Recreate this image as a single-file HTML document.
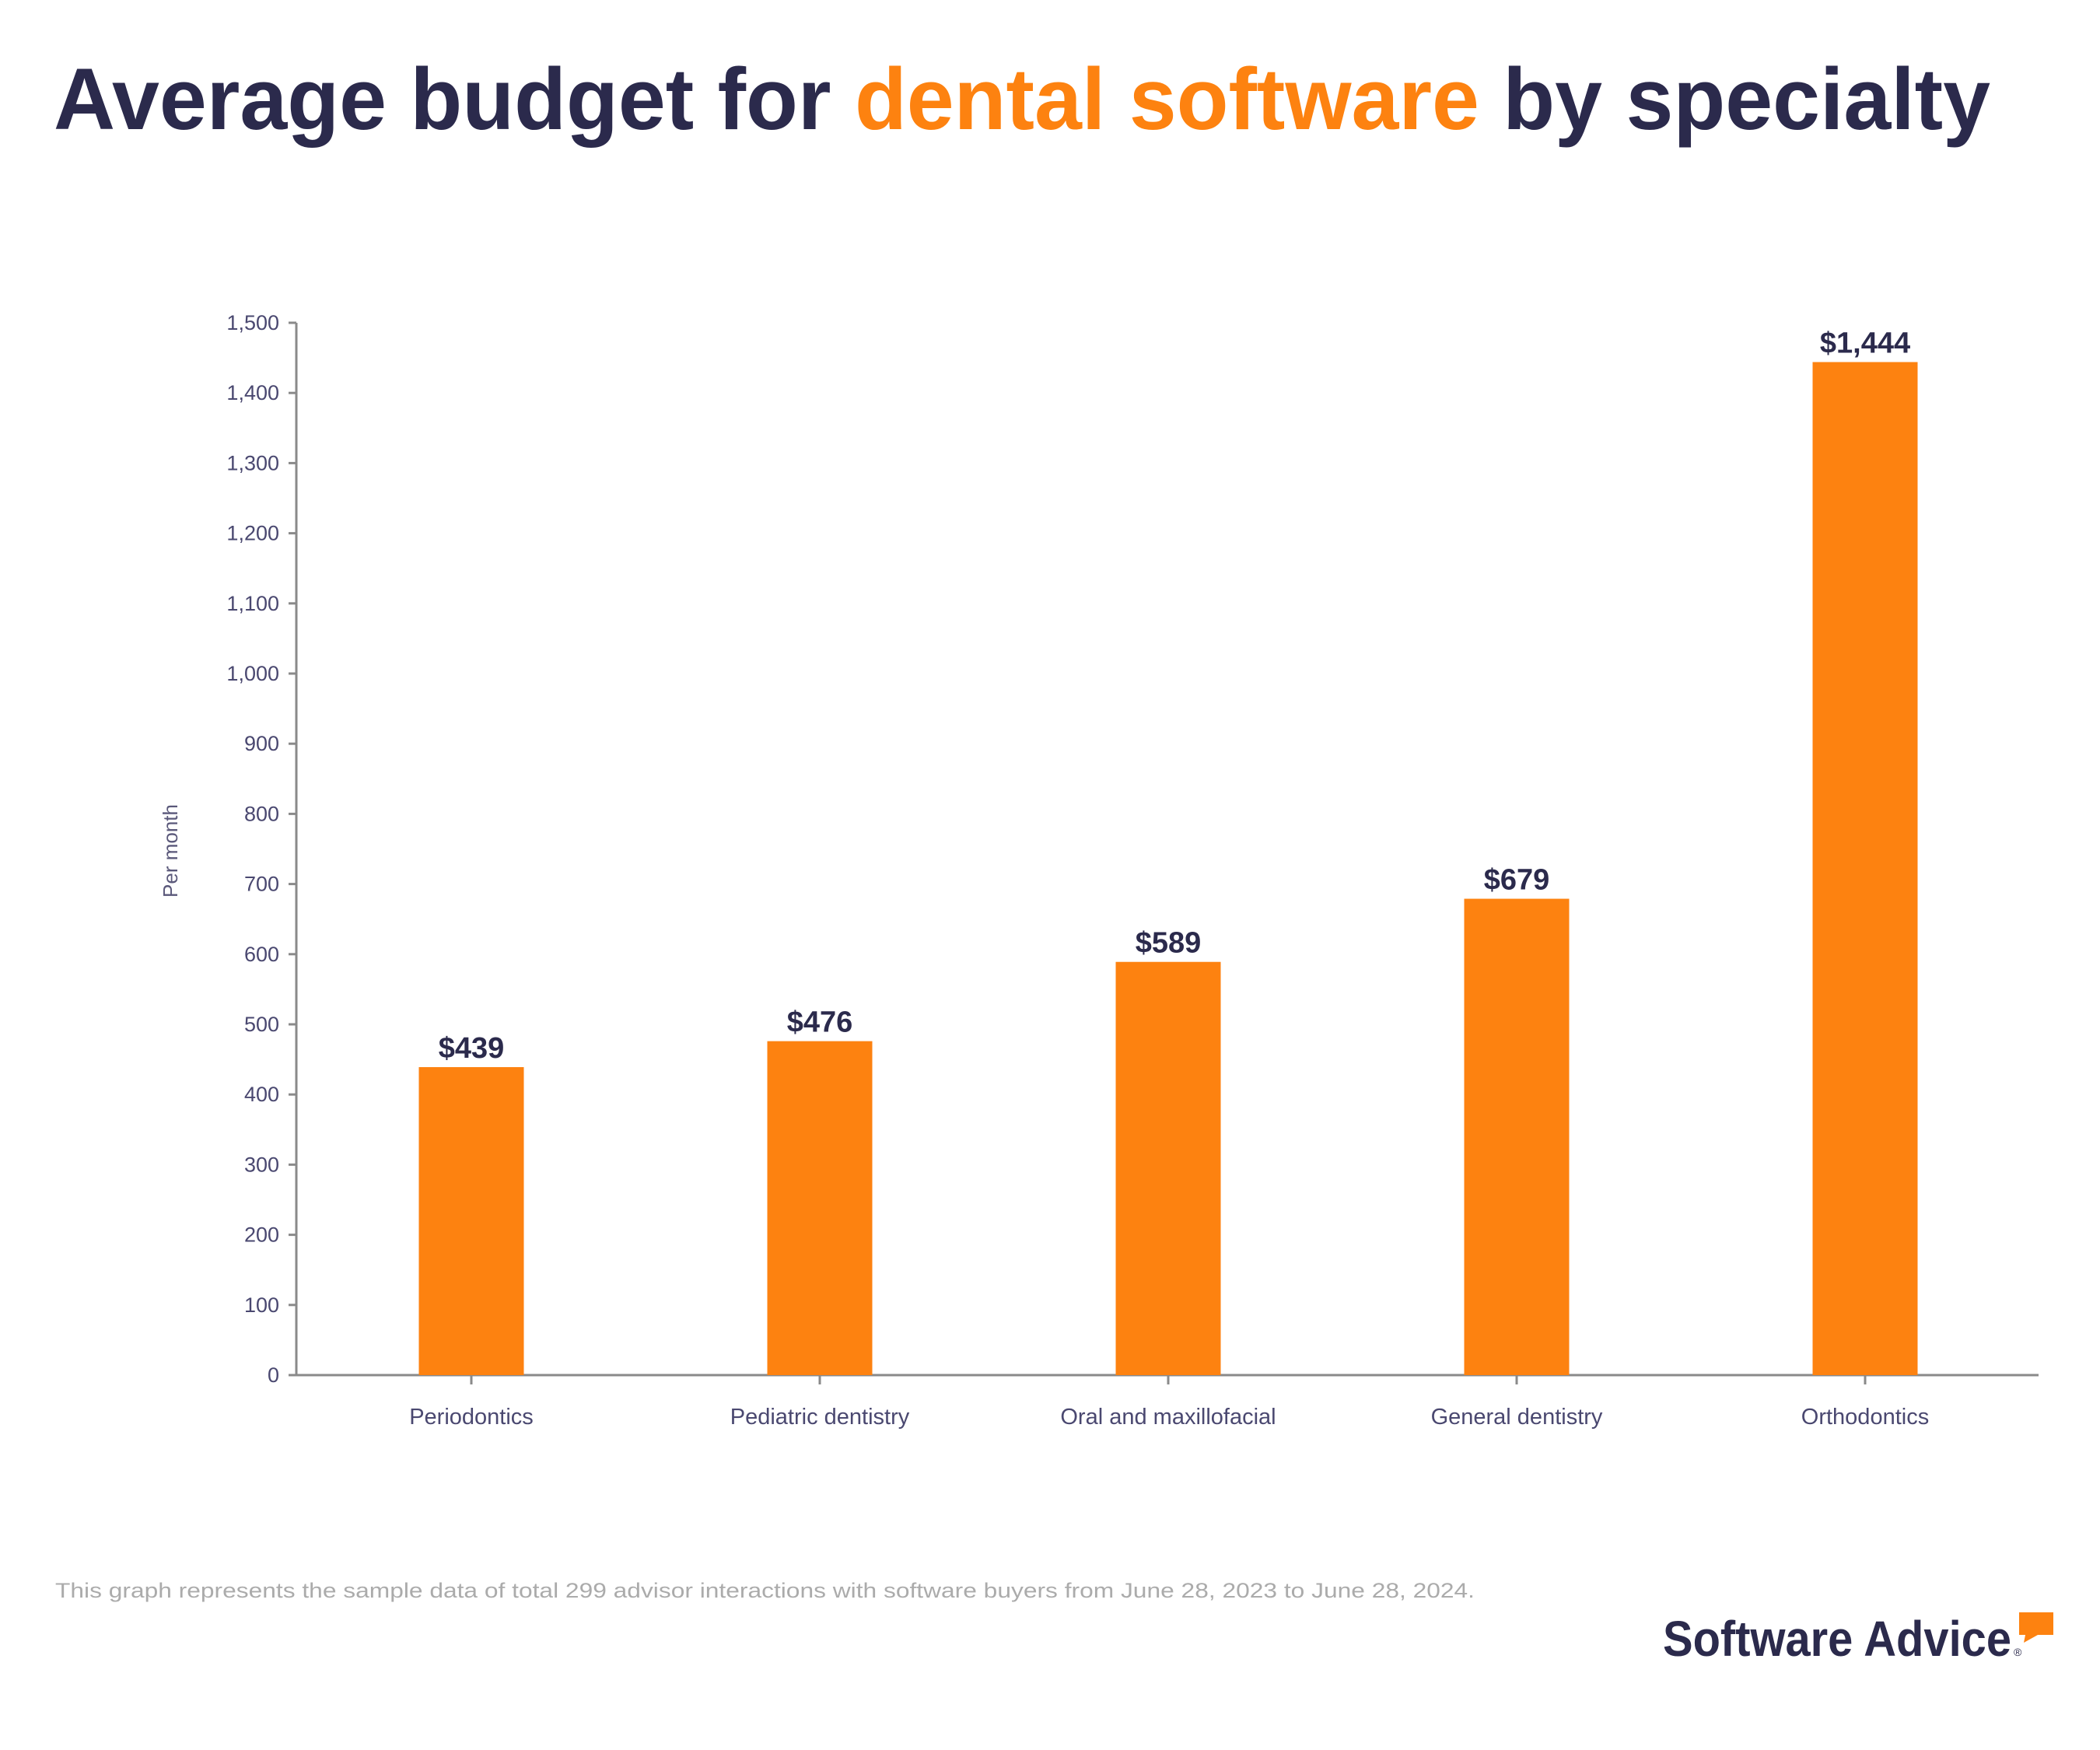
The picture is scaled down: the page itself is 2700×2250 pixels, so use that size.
<!DOCTYPE html>
<html><head><meta charset="utf-8"><style>
html,body{margin:0;padding:0;background:#fff;}
svg{display:block;font-family:"Liberation Sans",sans-serif;}
</style></head><body>
<svg id="chart" width="2700" height="2250" viewBox="0 0 2700 2250">
<text x="69" y="166" font-size="112" font-weight="bold" fill="#2b2a4c" textLength="2490" lengthAdjust="spacingAndGlyphs">Average budget for <tspan fill="#fd8210">dental software</tspan> by specialty</text>
<g id="axes"></g>
<g id="bars"></g>
<text x="221" y="1094" font-size="26" fill="#5a587a" text-anchor="middle" transform="rotate(-90 221 1094)" dominant-baseline="middle">Per month</text>
<text x="71" y="2054" font-size="27" fill="#ababab" textLength="1825" lengthAdjust="spacingAndGlyphs">This graph represents the sample data of total 299 advisor interactions with software buyers from June 28, 2023 to June 28, 2024.</text>
<text x="2138" y="2129" font-size="64" font-weight="bold" fill="#2b2a4c" textLength="448" lengthAdjust="spacingAndGlyphs">Software Advice</text>
<text x="2589" y="2129" font-size="14" fill="#2b2a4c">®</text>
<path d="M2596 2073 H2640 V2102 H2620 L2602 2112 L2604 2102 H2596 Z" fill="#fd8210"/>
</svg>
<script>
const categories = ["Periodontics","Pediatric dentistry","Oral and maxillofacial","General dentistry","Orthodontics"];
const values = [439,476,589,679,1444];
const valueLabels = ["$439","$476","$589","$679","$1,444"];
const yTicks = [0,100,200,300,400,500,600,700,800,900,1000,1100,1200,1300,1400,1500];

const NS="http://www.w3.org/2000/svg";
const x0=381, x1=2621, yZero=1768, yTop=415, yMax=1500;
function y(v){return yZero-(v/yMax)*(yZero-yTop);}
function xc(i){return 606+i*448;}
function el(tag,attrs,parent){const e=document.createElementNS(NS,tag);for(const k in attrs)e.setAttribute(k,attrs[k]);parent.appendChild(e);return e;}
const axes=document.getElementById('axes'), bars=document.getElementById('bars');

let a=el('line',{x1:x0,y1:yTop,x2:x0,y2:yZero,stroke:'#8a8a8a','stroke-width':3},axes);


a=el('line',{x1:x0-10,y1:yZero,x2:x1,y2:yZero,stroke:'#8a8a8a','stroke-width':3},axes);



yTicks.forEach(v=>{
  const t=el('line',{x1:x0-10,y1:y(v),x2:x0,y2:y(v),stroke:'#8a8a8a','stroke-width':3},axes);
  
  
  const l=el('text',{x:x0-22,y:y(v)+9,'font-size':27,fill:'#4a4870','text-anchor':'end'},axes);
  l.textContent=v.toLocaleString('en-US');
  
  
});

categories.forEach((c,i)=>{
  const cx=xc(i), w=135;
  const r=el('rect',{x:cx-w/2,y:y(values[i]),width:w,height:yZero-y(values[i]),fill:'#fd8210'},bars);
  
  
  const vl=el('text',{x:cx,y:y(values[i])-12,'font-size':38,'font-weight':'bold',fill:'#2b2a4c','text-anchor':'middle'},bars);
  vl.textContent=valueLabels[i];
  
  
  const tk=el('line',{x1:cx,y1:yZero,x2:cx,y2:yZero+12,stroke:'#8a8a8a','stroke-width':3},axes);
  
  
  const cl=el('text',{x:cx,y:1831,'font-size':29,fill:'#4a4870','text-anchor':'middle'},axes);
  cl.textContent=c;
  
  
});
</script>
</body></html>
